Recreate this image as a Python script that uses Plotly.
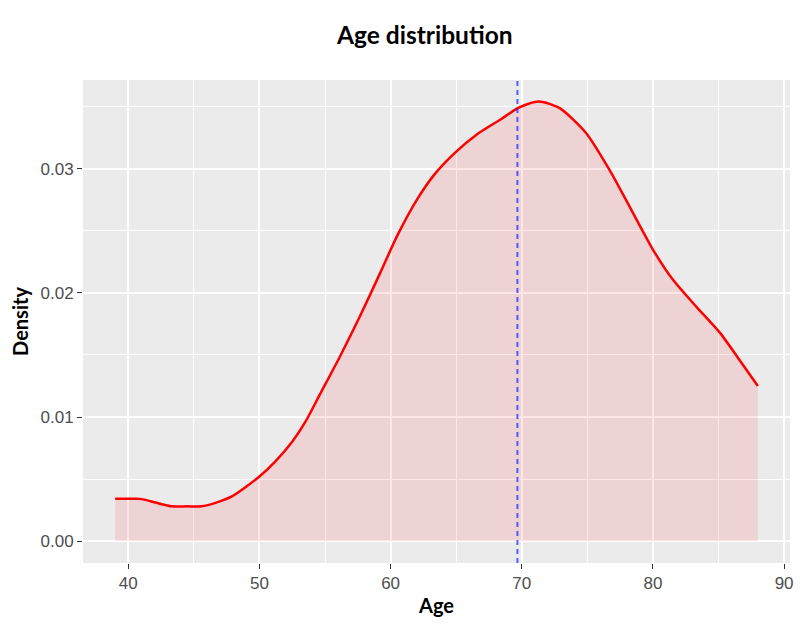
import plotly.graph_objects as go

# Density curve (Age vs Density)
ages = [39.0, 40.0, 40.9, 42.1, 43.3, 44.5, 45.6, 46.7, 47.9, 50.0, 51.2, 52.5,
        53.5, 54.6, 56.15, 57.7, 59.2, 60.5, 62.0, 63.3, 64.9, 66.6, 68.4, 69.7,
        71.0, 71.6, 72.9, 74.9, 76.7, 78.2, 80.0, 81.5, 83.3, 85.1, 86.6, 88.0]
density = [0.0034, 0.0034, 0.0034, 0.0031, 0.0028, 0.0028, 0.0028, 0.0031, 0.0036,
           0.0052, 0.0064, 0.0080, 0.0096, 0.0118, 0.0149, 0.0182, 0.0216, 0.0246,
           0.0275, 0.0295, 0.0313, 0.0328, 0.0340, 0.0349, 0.0354, 0.0354, 0.0349,
           0.0329, 0.0299, 0.0270, 0.0235, 0.0211, 0.0189, 0.0168, 0.0146, 0.0125]
mean_age = 69.67

x_ticks = [40, 50, 60, 70, 80, 90]
y_ticks = [0.00, 0.01, 0.02, 0.03]
y_tick_labels = ["0.00", "0.01", "0.02", "0.03"]

fig = go.Figure()
fig.add_trace(go.Scatter(
    x=ages, y=density, mode="lines",
    line=dict(color="#FF0000", width=2.5, shape="spline", smoothing=0.7),
    fill="tozeroy", fillcolor="rgba(255,0,0,0.1)", hoverinfo="skip", showlegend=False))

fig.add_shape(type="line", x0=mean_age, x1=mean_age, xref="x", yref="paper", y0=0, y1=1,
              line=dict(color="rgba(30,30,255,0.7)", width=2, dash="5px,4px"))

title_font = "Lato, 'Open Sans', sans-serif"
tick_font = "'Liberation Sans', Arial, sans-serif"

fig.update_layout(
    width=800, height=630,
    margin=dict(l=83, r=10, t=80, b=67, autoexpand=False),
    paper_bgcolor="white", plot_bgcolor="#EBEBEB",
    title=dict(text="<b>Age distribution</b>", x=0.531, xanchor="center", y=0.944, yanchor="middle",
               font=dict(family=title_font, size=24.5, color="black")),
    xaxis=dict(range=[36.55, 90.45], tickmode="array", tickvals=x_ticks,
               ticktext=[str(v) for v in x_ticks], automargin=False,
               showgrid=True, gridcolor="white", gridwidth=1.6, zeroline=False,
               ticks="outside", ticklen=5, tickcolor="#333333", tickwidth=1,
               tickfont=dict(family=tick_font, size=17, color="#4D4D4D"),
               minor=dict(tickvals=[45, 55, 65, 75, 85], showgrid=True, gridcolor="white", gridwidth=0.8, ticks=""),
               title=dict(text="<b>Age</b>", font=dict(family=title_font, size=20, color="black"), standoff=6),
               showline=False),
    yaxis=dict(range=[-0.00177, 0.03717], tickmode="array", tickvals=y_ticks, ticktext=y_tick_labels,
               automargin=False,
               showgrid=True, gridcolor="white", gridwidth=1.6, zeroline=False,
               ticks="outside", ticklen=5, tickcolor="#333333", tickwidth=1,
               tickfont=dict(family=tick_font, size=17, color="#4D4D4D"),
               minor=dict(tickvals=[0.005, 0.015, 0.025, 0.035], showgrid=True, gridcolor="white", gridwidth=0.8, ticks=""),
               title=dict(text="<b>Density</b>", font=dict(family=title_font, size=20, color="black"), standoff=6),
               showline=False),
)

fig.write_html("out.html", config={"displayModeBar": False},
               post_script="document.body.style.margin='0px';")
